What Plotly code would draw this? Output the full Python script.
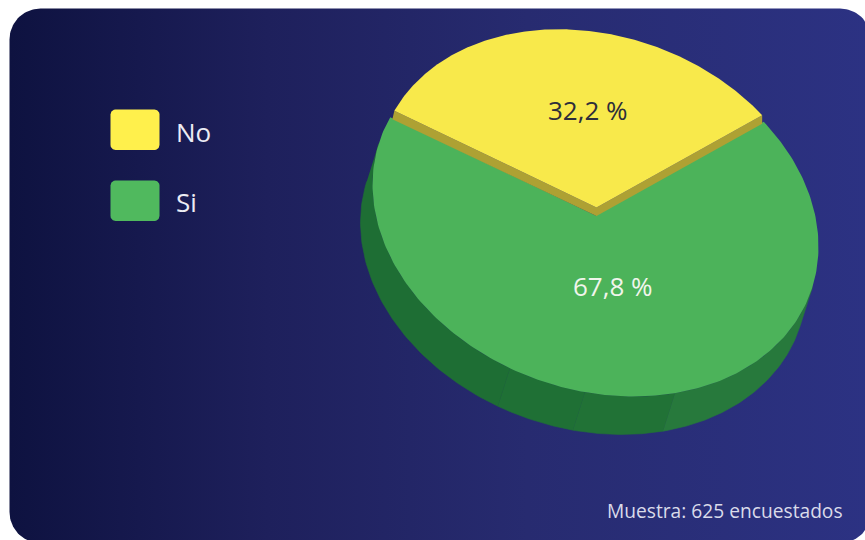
import numpy as np
import plotly.graph_objects as go

# ---- data ----
categories = ["No", "Si"]
percent = [32.2, 67.8]
percent_labels = ["32,2 %", "67,8 %"]
footnote = "Muestra: 625 encuestados"

# ---- styling ----
top_colors = ["#F8E94B", "#4CB35A"]
legend_colors = ["#FFF04C", "#50B95E"]
yellow_wall = "#AEA133"
wall_colors = ["#1E6E34", "#1F7035", "#217236", "#27793C"]
wall_breaks = [510, 585, 675]      # page x where the wall shade changes
label_colors = ["#2E2E3A", "#F1F5EC"]
W, H = 865, 540

# tilted ellipse: a unit circle mapped to the page
AX, CXY, DY = 223.0, 31.0, 178.3
centre = np.array([595.5, 215.5])
no_centre = np.array([596.5, 207.5])  # the "No" slice sits above the "Si" slice
no_scale = 0.985
wall_drop = 8.5
depth = np.array([-12.0, 38.0])    # thickness of the disc
mid_no = -99.0                      # direction of the middle of the "No" slice


def project(t, c, s=1.0):
    return c[0] + s * AX * np.cos(t), c[1] + s * (CXY * np.cos(t) + DY * np.sin(t))


def sector(a0, a1, c, s=1.0, n=240):
    t = np.radians(np.linspace(a0, a1, n))
    x, y = project(t, c, s)
    return np.r_[c[0], x, c[0]], np.r_[c[1], y, c[1]]


def poly(x, y, color, width=0, grad=None):
    kw = dict(fillgradient=grad) if grad else dict(fillcolor=color)
    return go.Scatter(x=x, y=y, mode="lines", fill="toself", hoverinfo="skip",
                      line=dict(width=width, color=color), showlegend=False, **kw)


def rounded(x0, y0, x1, y1, r, n=24):
    xs, ys = [], []
    for cx, cy, a in [(x1 - r, y0 + r, -90), (x1 - r, y1 - r, 0), (x0 + r, y1 - r, 90), (x0 + r, y0 + r, 180)]:
        t = np.radians(np.linspace(a, a + 90, n))
        xs += list(cx + r * np.cos(t))
        ys += list(cy + r * np.sin(t))
    return xs + xs[:1], ys + ys[:1]


span_no = percent[0] / sum(percent) * 360
a0 = mid_no - span_no / 2
a1 = mid_no + span_no / 2

fig = go.Figure()

# panel
px, py = rounded(9.5, 8.5, 871, 543, 31)
fig.add_trace(poly(px, py, "#1B1F5C", grad=dict(type="horizontal", colorscale=[
    [0, "#0E1240"], [0.30, "#1E205C"], [0.6, "#272B70"], [1, "#2C3283"]])))

# disc wall, in bands from left to right (visible half of the circle)
w = np.array([depth[0] / AX, (depth[1] - CXY * depth[0] / AX) / DY])
phi = np.degrees(np.arctan2(w[1], w[0]))
inner = [np.degrees(np.arccos((b - centre[0]) / AX)) for b in wall_breaks]
edges = [phi + 90] + sorted(inner, reverse=True) + [phi - 90]
for k, col in enumerate(wall_colors):
    t = np.radians(np.linspace(edges[k], edges[k + 1], 80))
    xb, yb = project(t, centre)
    xf, yf = project(t, centre + depth)
    fig.add_trace(poly(np.r_[xb, xf[::-1]], np.r_[yb, yf[::-1]], col, width=0.6))

# "Si" top
x, y = sector(a1, a0 + 360, centre)
fig.add_trace(poly(x, y, top_colors[1]))

# "No" slice: wall of the two cut faces, then its top
ex0, ey0 = project(np.radians(a0), no_centre, no_scale)
ex1, ey1 = project(np.radians(a1), no_centre, no_scale)
cx0, cy0 = no_centre
wall_x = [ex0, cx0, ex1, ex1, cx0, ex0 - 2]
wall_y = [ey0, cy0, ey1, ey1 + wall_drop, cy0 + wall_drop, ey0 + wall_drop]
fig.add_trace(poly(wall_x, wall_y, yellow_wall))
x, y = sector(a0, a1, no_centre, no_scale)
fig.add_trace(poly(x, y, top_colors[0]))

# legend swatches
for (yy, col) in zip([109.5, 180.5], legend_colors):
    sx, sy = rounded(110.5, yy, 159.5, yy + 40.5, 5)
    fig.add_trace(poly(sx, sy, col))


def note(text, x, y, size, color, anchor="center"):
    fig.add_annotation(x=x, y=y, xref="x", yref="y", text=text, showarrow=False, xanchor=anchor,
                       yanchor="middle", font=dict(family="Open Sans", size=size, color=color))


note(categories[0], 174, 132, 26, "#ECECF4", "left")
note(categories[1], 174, 202, 26, "#ECECF4", "left")
note(percent_labels[0], 588, 110, 26, label_colors[0])
note(percent_labels[1], 613, 286, 26, label_colors[1])
note(footnote, 845, 510, 19.2, "#DADBEA", "right")

fig.update_layout(width=W, height=H, margin=dict(l=0, r=0, t=0, b=0), showlegend=False,
                  paper_bgcolor="white", plot_bgcolor="white",
                  xaxis=dict(range=[0, W], visible=False, fixedrange=True),
                  yaxis=dict(range=[H, 0], visible=False, fixedrange=True))
fig.write_html("out.html", config=dict(displayModeBar=False),
               post_script="document.body.style.margin='0';document.body.style.overflow='hidden';")
